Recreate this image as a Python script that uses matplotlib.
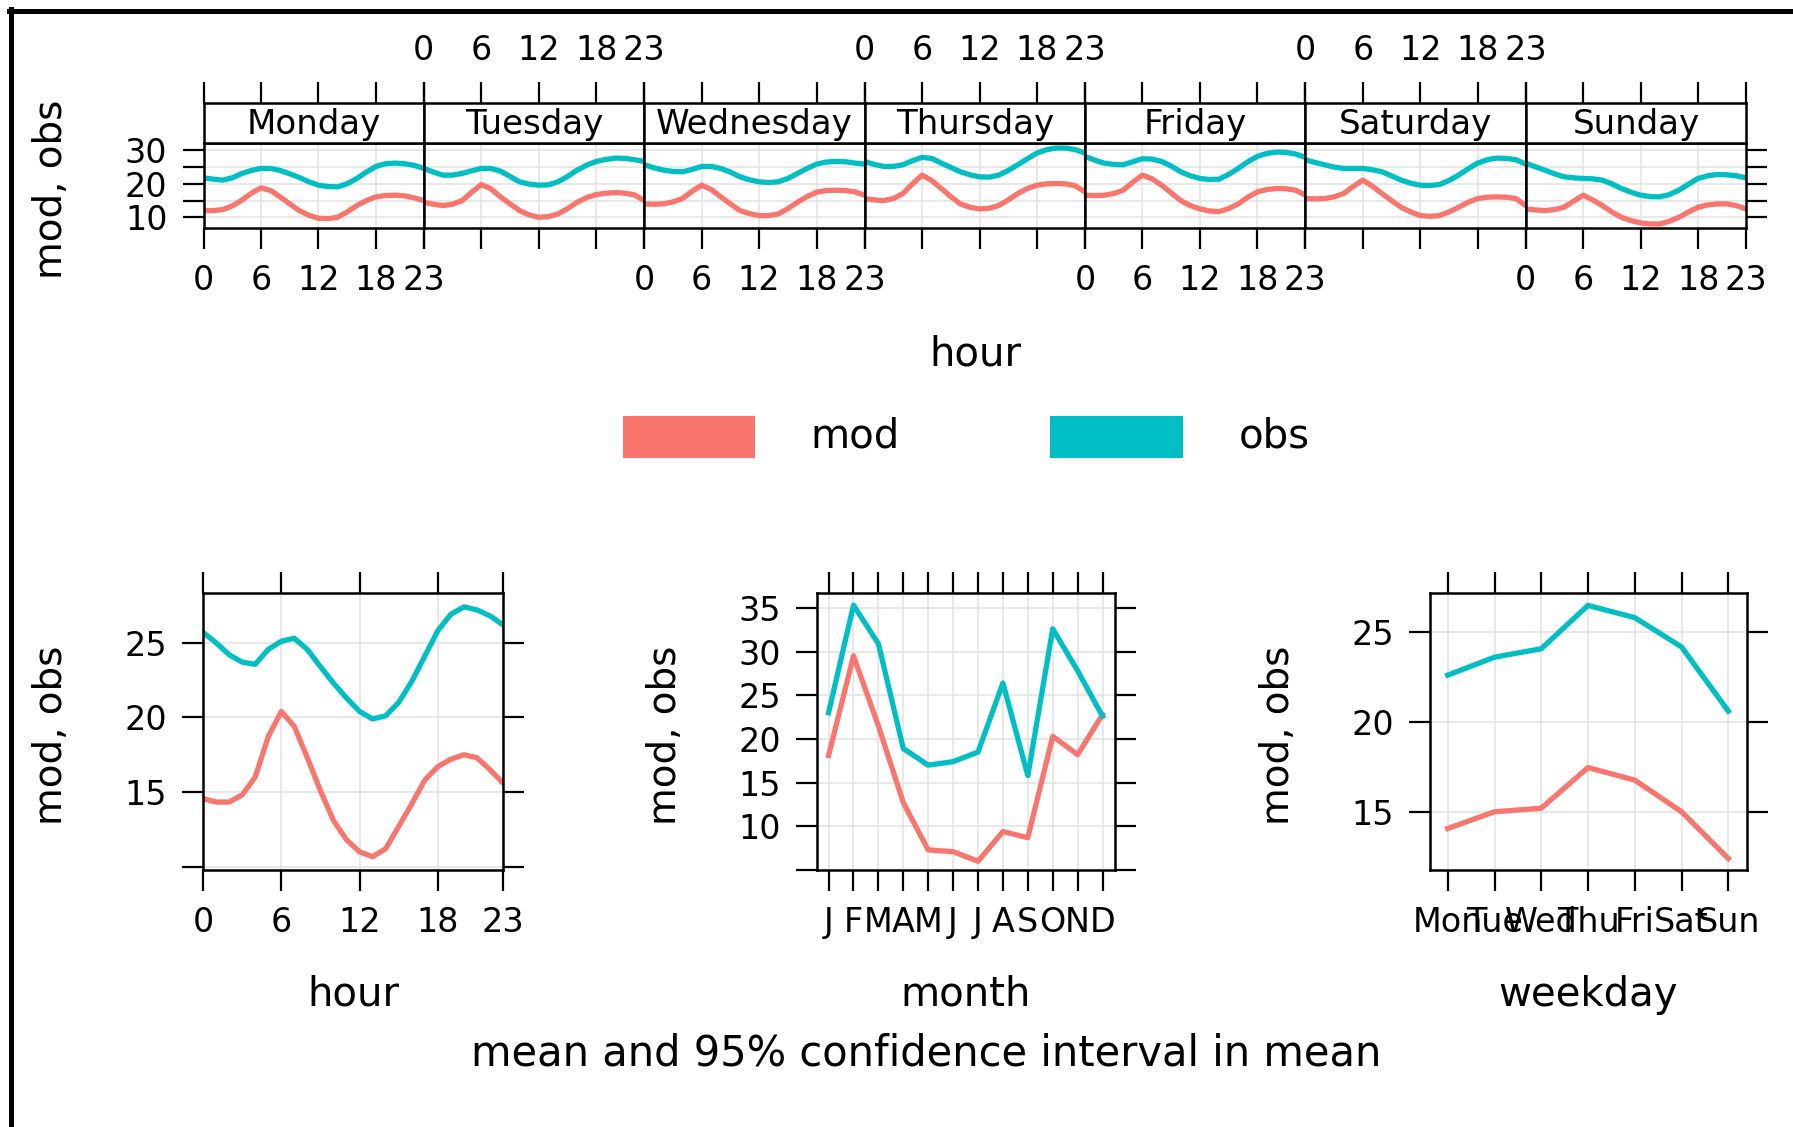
import matplotlib.pyplot as plt
from matplotlib.lines import Line2D
from matplotlib.patches import Rectangle

# ---- data ----
days = ["Monday", "Tuesday", "Wednesday", "Thursday", "Friday", "Saturday", "Sunday"]
hours = list(range(24))

obs_mon = [21.8, 21.4, 21.1, 21.8, 23.1, 24.0, 24.6, 24.6, 24.0, 23.0, 21.9, 20.6,
           19.6, 19.2, 19.1, 20.0, 21.6, 23.5, 25.2, 26.0, 26.2, 26.0, 25.5, 24.6]
mod_mon = [12.0, 12.0, 12.3, 13.4, 15.1, 17.2, 18.8, 18.0, 16.1, 14.0, 12.0, 10.6,
           9.7, 9.6, 10.0, 11.6, 13.5, 15.0, 16.1, 16.5, 16.6, 16.4, 15.8, 15.0]
obs_tue = [24.6, 23.5, 22.6, 22.6, 23.1, 23.9, 24.6, 24.6, 23.8, 22.2, 20.6, 19.9,
           19.6, 19.7, 20.6, 22.2, 24.1, 25.6, 26.7, 27.3, 27.7, 27.6, 27.2, 26.7]
mod_tue = [14.5, 13.9, 13.5, 13.9, 15.0, 17.5, 19.8, 18.5, 16.1, 14.0, 12.0, 10.7,
           10.0, 10.2, 11.0, 12.6, 14.5, 15.9, 16.8, 17.2, 17.4, 17.2, 16.7, 15.0]
obs_wed = [25.7, 24.8, 24.1, 23.7, 23.6, 24.3, 25.2, 25.2, 24.6, 23.5, 22.1, 21.2,
           20.6, 20.4, 20.6, 21.6, 23.1, 24.6, 25.9, 26.5, 26.7, 26.6, 26.2, 25.9]
mod_wed = [14.0, 13.9, 14.0, 14.6, 15.6, 17.8, 19.6, 18.3, 16.1, 14.0, 12.0, 11.1,
           10.5, 10.5, 11.0, 12.6, 14.5, 16.2, 17.5, 18.0, 18.1, 18.0, 17.6, 16.6]
obs_thu = [26.7, 25.8, 25.2, 25.2, 25.7, 26.9, 27.9, 27.6, 26.2, 24.9, 23.6, 22.7,
           22.1, 22.0, 22.6, 24.0, 25.7, 27.5, 29.2, 30.2, 30.7, 30.7, 30.2, 29.2]
mod_thu = [15.6, 15.2, 15.0, 15.6, 17.1, 20.0, 22.6, 21.0, 18.6, 16.2, 14.0, 13.0,
           12.5, 12.7, 13.5, 15.2, 17.1, 18.6, 19.6, 20.0, 20.1, 20.0, 19.4, 17.6]
obs_fri = [28.2, 27.1, 26.2, 25.8, 25.7, 26.6, 27.5, 27.4, 26.7, 25.3, 23.6, 22.4,
           21.6, 21.3, 21.4, 22.8, 24.6, 26.6, 28.2, 29.1, 29.5, 29.4, 28.9, 27.9]
mod_fri = [16.6, 16.5, 16.6, 17.1, 18.1, 20.5, 22.6, 21.5, 19.6, 17.3, 15.0, 13.5,
           12.5, 11.9, 11.7, 12.6, 14.0, 16.0, 17.6, 18.3, 18.6, 18.5, 18.1, 16.6]
obs_sat = [27.2, 26.4, 25.7, 25.0, 24.6, 24.6, 24.6, 24.2, 23.6, 22.4, 21.1, 20.2,
           19.6, 19.5, 19.8, 21.0, 22.6, 24.5, 26.2, 27.2, 27.7, 27.6, 27.2, 25.9]
mod_sat = [15.6, 15.5, 15.6, 16.1, 17.1, 19.2, 21.1, 19.3, 17.1, 15.0, 13.0, 11.6,
           10.5, 10.3, 10.5, 11.6, 13.0, 14.5, 15.6, 16.0, 16.1, 16.0, 15.6, 13.5]
obs_sun = [26.2, 25.1, 24.1, 23.0, 22.1, 21.8, 21.6, 21.5, 21.1, 20.0, 18.6, 17.5,
           16.6, 16.2, 16.1, 16.8, 18.1, 19.9, 21.6, 22.4, 22.8, 22.7, 22.4, 21.8]
mod_sun = [12.5, 12.2, 12.0, 12.3, 13.0, 14.8, 16.6, 15.2, 13.5, 11.6, 10.0, 9.0,
           8.3, 8.0, 8.0, 8.8, 10.0, 11.6, 13.0, 13.7, 14.0, 14.0, 13.5, 12.5]

hour_obs = [25.7, 25.0, 24.2, 23.7, 23.55, 24.55, 25.1, 25.3, 24.55, 23.4, 22.3, 21.3,
            20.4, 19.9, 20.1, 21.0, 22.4, 24.1, 25.8, 26.9, 27.4, 27.2, 26.8, 26.2]
hour_mod = [14.56, 14.33, 14.33, 14.8, 16.0, 18.7, 20.4, 19.4, 17.3, 15.1, 13.1, 11.8,
            11.0, 10.67, 11.2, 12.7, 14.2, 15.8, 16.7, 17.2, 17.5, 17.3, 16.5, 15.6]

month_labels = ["J", "F", "M", "A", "M", "J", "J", "A", "S", "O", "N", "D"]
month_obs = [23.0, 35.3, 30.9, 18.9, 17.0, 17.4, 18.5, 26.4, 15.8, 32.6, 27.8, 22.6]
month_mod = [18.1, 29.5, 21.5, 12.7, 7.3, 7.1, 6.0, 9.4, 8.7, 20.3, 18.2, 22.8]

wday_labels = ["Mon", "Tue", "Wed", "Thu", "Fri", "Sat", "Sun"]
wday_obs = [22.6, 23.6, 24.07, 26.48, 25.8, 24.17, 20.6]
wday_mod = [14.07, 15.0, 15.2, 17.46, 16.76, 15.0, 12.4]

obs_by_day = [obs_mon, obs_tue, obs_wed, obs_thu, obs_fri, obs_sat, obs_sun]
mod_by_day = [mod_mon, mod_tue, mod_wed, mod_thu, mod_fri, mod_sat, mod_sun]

# ---- style ----
RED = "#F8766D"
TEAL = "#00BFC4"
GRID = "#E4E4E4"
LW = 3.8
W, H = 1793, 1127
TICK = dict(direction="out", length=15, width=1.6, labelsize=24, pad=11)

fig = plt.figure(figsize=(W / 100, H / 100), dpi=100)


def px_axes(x0, y0, x1, y1):
    ax = fig.add_axes([x0 / W, 1 - y1 / H, (x1 - x0) / W, (y1 - y0) / H])
    for s in ax.spines.values():
        s.set_linewidth(1.8)
    return ax


def grid(ax, xs, ys):
    for x in xs:
        ax.axvline(x, color=GRID, lw=1.2, zorder=0)
    for y in ys:
        ax.axhline(y, color=GRID, lw=1.2, zorder=0)


# ---- top panel: hour by weekday ----
left, right = 203.5, 1746
dw = (right - left) / 7
xt = [0, 6, 12, 18, 23]
yt = [10, 15, 20, 25, 30]
for i, day in enumerate(days):
    x0 = left + i * dw
    ax = px_axes(x0, 143, x0 + dw, 228)
    ax.set_xlim(0, 23)
    ax.set_ylim(6.8, 32.2)
    grid(ax, [0, 6, 12, 18], yt)
    ax.plot(hours, mod_by_day[i], color=RED, lw=LW)
    ax.plot(hours, obs_by_day[i], color=TEAL, lw=LW)
    ax.set_xticks(xt)
    ax.tick_params(axis="x", bottom=True, top=False, labelbottom=(i % 2 == 0), **TICK)
    ax.set_yticks(yt)
    ax.set_yticklabels(["10", "", "20", "", "30"])
    ax.tick_params(axis="y", left=(i == 0), right=(i == 6), labelleft=(i == 0),
                   labelright=False, **TICK)

    strip = px_axes(x0, 103, x0 + dw, 143)
    strip.set_xlim(0, 23)
    strip.set_xticks(xt)
    strip.set_yticks([])
    strip.tick_params(axis="x", top=True, bottom=False, labeltop=(i % 2 == 1),
                      labelbottom=False, **TICK)
    strip.text(0.5, 0.45, day, ha="center", va="center", fontsize=24.5,
               transform=strip.transAxes)

fig.text(51 / W, 1 - 189 / H, "mod, obs", rotation=90, ha="center", va="center", fontsize=28)
fig.text(975 / W, 1 - 354 / H, "hour", ha="center", va="center", fontsize=29)

# legend
fig.add_artist(Rectangle((623 / W, 1 - 458 / H), 132 / W, 42 / H, transform=fig.transFigure,
                         color=RED, lw=0))
fig.add_artist(Rectangle((1050 / W, 1 - 458 / H), 133 / W, 42 / H, transform=fig.transFigure,
                         color=TEAL, lw=0))
fig.text(810 / W, 1 - 437 / H, "mod", ha="left", va="center", fontsize=29)
fig.text(1239 / W, 1 - 437 / H, "obs", ha="left", va="center", fontsize=29)


# ---- bottom panels ----
def bottom_panel(x0, x1, xlim, ylim, xticks, xlabels, yticks, ylabels, gx, gy):
    ax = px_axes(x0, 593, x1, 870)
    ax.set_xlim(*xlim)
    ax.set_ylim(*ylim)
    grid(ax, gx, gy)
    ax.set_xticks(xticks)
    ax.set_xticklabels(xlabels)
    ax.set_yticks(yticks)
    ax.set_yticklabels(ylabels)
    ax.tick_params(axis="both", top=True, right=True, labeltop=False, labelright=False, **TICK)
    fig.text((x0 - 152) / W, 1 - 735 / H, "mod, obs", rotation=90, ha="center", va="center",
             fontsize=28)
    return ax


ax1 = bottom_panel(203, 503, (0, 23), (9.78, 28.33), xt, [str(v) for v in xt],
                   [10, 15, 20, 25], ["", "15", "20", "25"], [0, 6, 12, 18, 23], [10, 15, 20, 25])
ax1.plot(hours, hour_mod, color=RED, lw=LW)
ax1.plot(hours, hour_obs, color=TEAL, lw=LW)
fig.text(353 / W, 1 - 995 / H, "hour", ha="center", va="center", fontsize=29)

mpos = list(range(1, 13))
ax2 = bottom_panel(817, 1115, (0.535, 12.5), (5, 36.7), mpos, month_labels,
                   [5, 10, 15, 20, 25, 30, 35], ["", "10", "15", "20", "25", "30", "35"],
                   mpos, [10, 15, 20, 25, 30, 35])
ax2.plot(mpos, month_mod, color=RED, lw=LW)
ax2.plot(mpos, month_obs, color=TEAL, lw=LW)
fig.text(966 / W, 1 - 995 / H, "month", ha="center", va="center", fontsize=29)

wpos = list(range(1, 8))
ax3 = bottom_panel(1430, 1747, (0.62, 7.4), (11.76, 27.17), wpos, wday_labels,
                   [15, 20, 25], ["15", "20", "25"], wpos, [15, 20, 25])
ax3.plot(wpos, wday_mod, color=RED, lw=LW)
ax3.plot(wpos, wday_obs, color=TEAL, lw=LW)
fig.text(1588 / W, 1 - 995 / H, "weekday", ha="center", va="center", fontsize=29)

fig.text(926 / W, 1 - 1053 / H, "mean and 95% confidence interval in mean",
         ha="center", va="center", fontsize=30)

# outer frame (left and top edges only, as in the screenshot)
fig.add_artist(Line2D([11 / W, 11 / W], [0, 1 - 9 / H], color="black", lw=3.6,
                      transform=fig.transFigure))
fig.add_artist(Line2D([9 / W, 1], [1 - 11 / H, 1 - 11 / H], color="black", lw=3.6,
                      transform=fig.transFigure))

fig.savefig("out.png", dpi=100)
